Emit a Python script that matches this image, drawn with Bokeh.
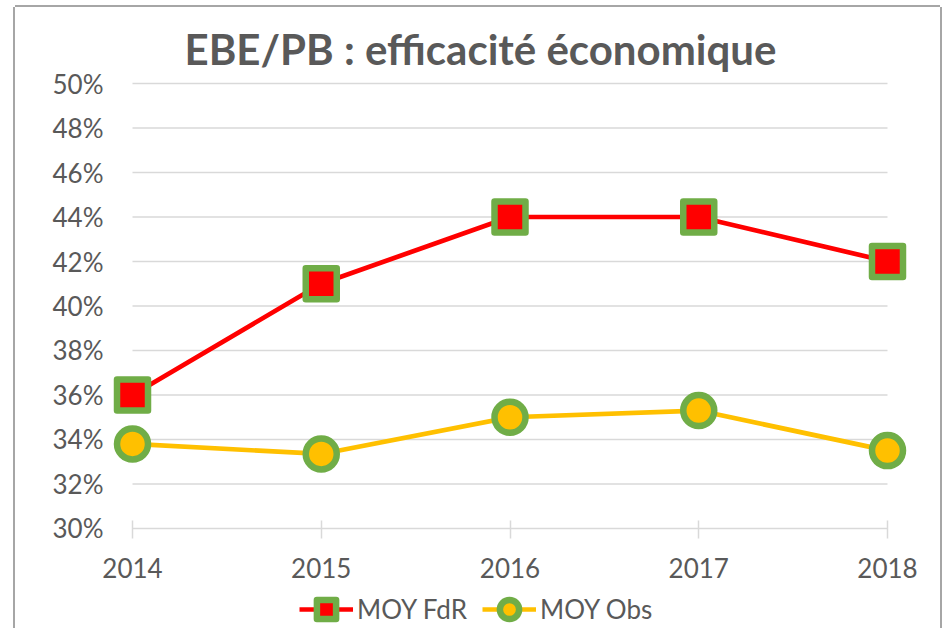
from bokeh.plotting import figure
from bokeh.layouts import column
from bokeh.models import FixedTicker, Legend, LegendItem, Range1d, Title
from bokeh.embed import file_html
from bokeh.resources import INLINE

# ---- data ----
years = [2014, 2015, 2016, 2017, 2018]
moy_fdr = [36.0, 41.0, 44.0, 44.0, 42.0]
moy_obs = [33.8, 33.35, 35.0, 35.3, 33.5]
y_ticks = [30, 32, 34, 36, 38, 40, 42, 44, 46, 48, 50]
y_tick_labels = [f"{t}%" for t in y_ticks]
x_tick_labels = [str(y) for y in years]
title_text = "EBE/PB : efficacité économique"
series_names = ["MOY FdR", "MOY Obs"]

# ---- style ----
RED = "#FF0000"
GOLD = "#FFC000"
GREEN = "#70AD47"
TEXT = "#595959"
GRID = "#D9D9D9"
FONT = "Lato"

xpad = 0.106
ypad = 0.09

p = figure(width=925, height=585, output_backend="svg", toolbar_location=None,
           x_range=Range1d(years[0] - xpad, years[-1] + xpad),
           y_range=Range1d(y_ticks[0] - ypad, y_ticks[-1] + ypad),
           min_border_left=97, min_border_right=33, min_border_top=74,
           min_border_bottom=62)
p.outline_line_color = None
p.background_fill_color = "white"
p.border_fill_color = "white"
p.xgrid.visible = False
p.ygrid.visible = False

# gridlines (incl. horizontal axis line at 30%) spanning first to last category
p.segment(x0=[years[0]] * len(y_ticks), x1=[years[-1]] * len(y_ticks),
          y0=y_ticks, y1=y_ticks, line_color=GRID, line_width=1.5)

# axes
p.xaxis.ticker = FixedTicker(ticks=years)
p.xaxis.major_label_overrides = {y: l for y, l in zip(years, x_tick_labels)}
p.xaxis.axis_line_color = None
p.xaxis.major_tick_line_color = GRID
p.xaxis.major_tick_line_width = 1.5
p.xaxis.major_tick_in = 10
p.xaxis.major_tick_out = 8
p.xaxis.minor_tick_line_color = None
p.xaxis.major_label_standoff = 19
p.xaxis.major_label_text_font = FONT
p.xaxis.major_label_text_font_size = "26px"
p.xaxis.major_label_text_color = TEXT

p.yaxis.ticker = FixedTicker(ticks=y_ticks)
p.yaxis.major_label_overrides = {t: l for t, l in zip(y_ticks, y_tick_labels)}
p.yaxis.axis_line_color = None
p.yaxis.major_tick_line_color = None
p.yaxis.major_tick_in = 0
p.yaxis.major_tick_out = 0
p.yaxis.minor_tick_line_color = None
p.yaxis.major_label_standoff = 9
p.yaxis.major_label_text_font = FONT
p.yaxis.major_label_text_font_size = "26px"
p.yaxis.major_label_text_color = TEXT

# series
line_kw = dict(line_width=4.7, line_join="round")
sq_kw = dict(marker="square", size=31, fill_color=RED, line_color=GREEN,
             line_width=6.5, line_join="round")
ci_kw = dict(marker="circle", size=31, fill_color=GOLD, line_color=GREEN,
             line_width=6.5)
p.line(years, moy_fdr, line_color=RED, **line_kw)
p.scatter(years, moy_fdr, **sq_kw)
p.line(years, moy_obs, line_color=GOLD, **line_kw)
p.scatter(years, moy_obs, **ci_kw)

title = Title(text=title_text, align="left", offset=72, standoff=16,
              text_font=FONT, text_font_style="bold", text_font_size="42px",
              text_color=TEXT)
p.add_layout(title, "above")

# legend strip below the chart: same series, drawn out of view, only the
# legend is visible
q = figure(width=925, height=36, output_backend="svg", toolbar_location=None,
           x_range=Range1d(0, 1), y_range=Range1d(0, 1),
           x_axis_type=None, y_axis_type=None,
           min_border_left=0, min_border_right=0, min_border_top=0,
           min_border_bottom=0)
q.outline_line_color = None
q.xgrid.visible = False
q.ygrid.visible = False
q.border_fill_color = "white"
q.background_fill_color = "white"
ql1 = q.line(years, moy_fdr, line_color=RED, **line_kw)
qs1 = q.scatter(years, moy_fdr, **sq_kw)
ql2 = q.line(years, moy_obs, line_color=GOLD, **line_kw)
qs2 = q.scatter(years, moy_obs, **ci_kw)
legend = Legend(items=[LegendItem(label=series_names[0], renderers=[ql1, qs1]),
                       LegendItem(label=series_names[1], renderers=[ql2, qs2])],
                orientation="horizontal", location=(187, -5),
                glyph_width=54, glyph_height=48, label_standoff=4, spacing=15,
                padding=0, margin=0, border_line_color=None,
                background_fill_alpha=0,
                label_text_font=FONT, label_text_font_size="26px",
                label_text_color=TEXT)
q.add_layout(legend, "center")

layout = column(p, q, spacing=0)
layout.styles = {"margin-left": "15px", "margin-top": "7px",
                 "box-shadow": "-2px 0 0 0 #A6A6A6, 2px 0 0 0 #A6A6A6, 0 -2px 0 0 #A6A6A6"}

open("out.html", "w").write(file_html(layout, INLINE))
